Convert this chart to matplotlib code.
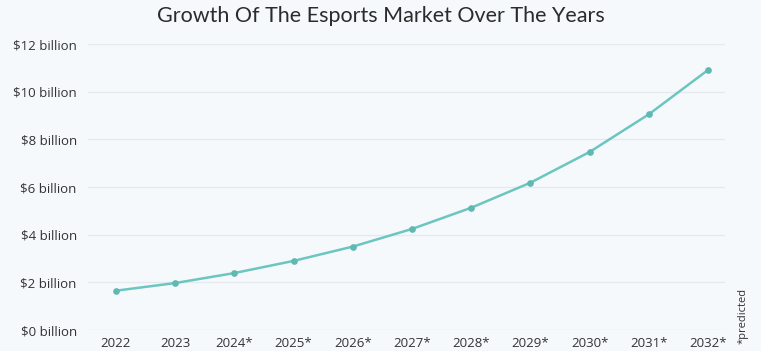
import matplotlib
matplotlib.use("Agg")
import matplotlib.pyplot as plt

years = ["2022", "2023", "2024*", "2025*", "2026*", "2027*", "2028*", "2029*", "2030*", "2031*", "2032*"]
market_billion = [1.65, 1.97, 2.39, 2.90, 3.50, 4.24, 5.13, 6.18, 7.47, 9.05, 10.91]
y_ticks = [0, 2, 4, 6, 8, 10, 12]
y_labels = ["$0 billion", "$2 billion", "$4 billion", "$6 billion", "$8 billion", "$10 billion", "$12 billion"]

bg = "#f6f9fc"
fig = plt.figure(figsize=(7.61, 3.51), dpi=100, facecolor=bg)
ax = fig.add_axes([0.1156, 0.0598, 0.8371, 0.8148], facecolor=bg)

x = list(range(len(years)))
ax.plot(x, market_billion, color="#6cc6c0", lw=1.8, marker="o", ms=3.8,
        markerfacecolor="#5fb8b2", markeredgecolor="#5fb8b2", zorder=3)

ax.set_ylim(0, 12)
ax.set_xlim(-0.473, 10.287)
ax.set_yticks(y_ticks)
ax.set_yticklabels(y_labels, fontsize=9.5, color="#333333", family="Open Sans")
ax.set_xticks(x)
ax.set_xticklabels(years, fontsize=9.5, color="#333333", family="Open Sans")
ax.tick_params(length=0, pad=5)
ax.tick_params(axis="y", pad=8)
ax.grid(axis="y", color="#e6e9ee", lw=1)
ax.set_axisbelow(True)
for s in ax.spines.values():
    s.set_visible(False)

fig.text(0.5, 0.955, "Growth Of The Esports Market Over The Years", ha="center", va="center",
         fontsize=15.5, color="#2b2b2b", family="Lato")
fig.text(0.977, 0.1, "*predicted", rotation=90, ha="center", va="center",
         fontsize=8, color="#333333", family="Open Sans")

fig.savefig("out.png", dpi=100, facecolor=bg)
